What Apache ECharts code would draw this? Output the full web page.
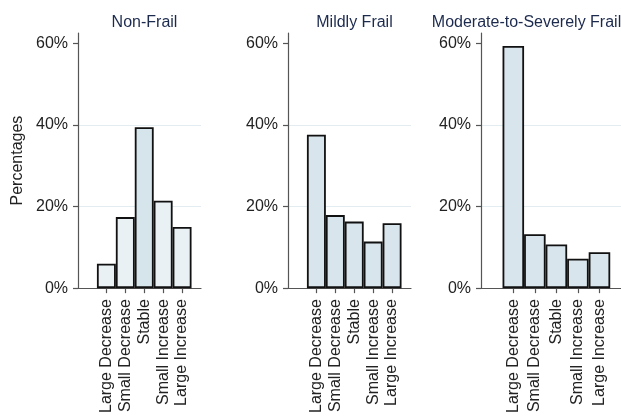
<!DOCTYPE html>
<html>
<head>
<meta charset="utf-8">
<script src="https://cdn.jsdelivr.net/npm/echarts@6/dist/echarts.min.js"></script>
<style>
  html, body { margin: 0; padding: 0; background: #fff; }
  #chart { width: 621px; height: 416px; }
</style>
</head>
<body>
<div id="chart"></div>
<script>
// Change categories (x positions 1..5 on each panel)
const categories = ['Large Decrease', 'Small Decrease', 'Stable', 'Small Increase', 'Large Increase'];
const panelTitles = ['Non-Frail', 'Mildly Frail', 'Moderate-to-Severely Frail'];

// Percentage of people in each change category, per frailty group
const nonFrail = [6.0, 17.4, 39.4, 21.4, 15.0];
const mildlyFrail = [37.6, 17.9, 16.3, 11.4, 15.9];
const moderateSevere = [59.3, 13.2, 10.7, 7.2, 8.8];

const yTicks = [0, 20, 40, 60];
const panels = [nonFrail, mildlyFrail, moderateSevere];

// Panel layout (pixels)
const gridBoxes = [
  { left: 78, width: 123 },
  { left: 288, width: 123 },
  { left: 481, width: 140 }
];
const titleCenters = [139.5, 349.5, 521.5];

const FONT = '"Liberation Sans", Arial, sans-serif';
const AXIS_COLOR = '#555';
const TEXT_COLOR = '#222';

const grid = gridBoxes.map(g => ({ left: g.left, width: g.width, top: 33, height: 256, containLabel: false }));

const xAxis = gridBoxes.map((g, i) => ({
  type: 'value',
  gridIndex: i,
  min: -0.5,
  max: 6,
  splitLine: { show: false },
  axisLine: { show: true, onZero: false, lineStyle: { color: AXIS_COLOR, width: 1.2 } },
  axisTick: { show: true, customValues: [1, 2, 3, 4, 5], length: 5, lineStyle: { color: AXIS_COLOR, width: 1.2 } },
  axisLabel: {
    show: true,
    customValues: [1, 2, 3, 4, 5],
    rotate: 90,
    margin: 11,
    fontSize: 16,
    fontFamily: FONT,
    color: TEXT_COLOR,
    formatter: v => categories[Math.round(v) - 1] || ''
  }
}));

const yAxis = gridBoxes.map((g, i) => ({
  type: 'value',
  gridIndex: i,
  min: 0,
  max: 62.5,
  interval: 20,
  name: i === 0 ? 'Percentages' : '',
  nameLocation: 'middle',
  nameGap: 52,
  nameTextStyle: { fontSize: 16, fontFamily: FONT, color: TEXT_COLOR },
  axisLine: { show: true, onZero: false, lineStyle: { color: AXIS_COLOR, width: 1.2 } },
  axisTick: { show: true, customValues: yTicks, length: 5, lineStyle: { color: AXIS_COLOR, width: 1.2 } },
  axisLabel: {
    customValues: yTicks,
    margin: 10,
    fontSize: 16,
    fontFamily: FONT,
    color: TEXT_COLOR,
    formatter: v => v + '%'
  },
  splitLine: { show: true, showMinLine: false, showMaxLine: false, lineStyle: { color: '#e3edf1', width: 1 } }
}));

const series = panels.map((vals, i) => ({
  type: 'bar',
  xAxisIndex: i,
  yAxisIndex: i,
  barWidth: '100%',
  data: vals.map((v, k) => {
    const item = { value: [k + 1, v] };
    // in the non-frail panel the stable group is set off with a deeper tint
    if (i === 0) item.itemStyle = { color: k === 2 ? '#d6e5ec' : '#e9f1f4' };
    return item;
  }),
  itemStyle: { color: '#d8e5ec', borderColor: '#111', borderWidth: 1.8 },
  silent: true
}));

const title = panelTitles.map((t, i) => ({
  text: t,
  left: titleCenters[i],
  top: 10,
  textAlign: 'center',
  textStyle: { fontSize: 16, fontWeight: 'normal', fontFamily: FONT, color: '#1c2a4e' }
}));

const chart = echarts.init(document.getElementById('chart'), null, { renderer: 'canvas' });
chart.setOption({
  animation: false,
  backgroundColor: '#fff',
  title,
  grid,
  xAxis,
  yAxis,
  series
});
</script>
</body>
</html>
